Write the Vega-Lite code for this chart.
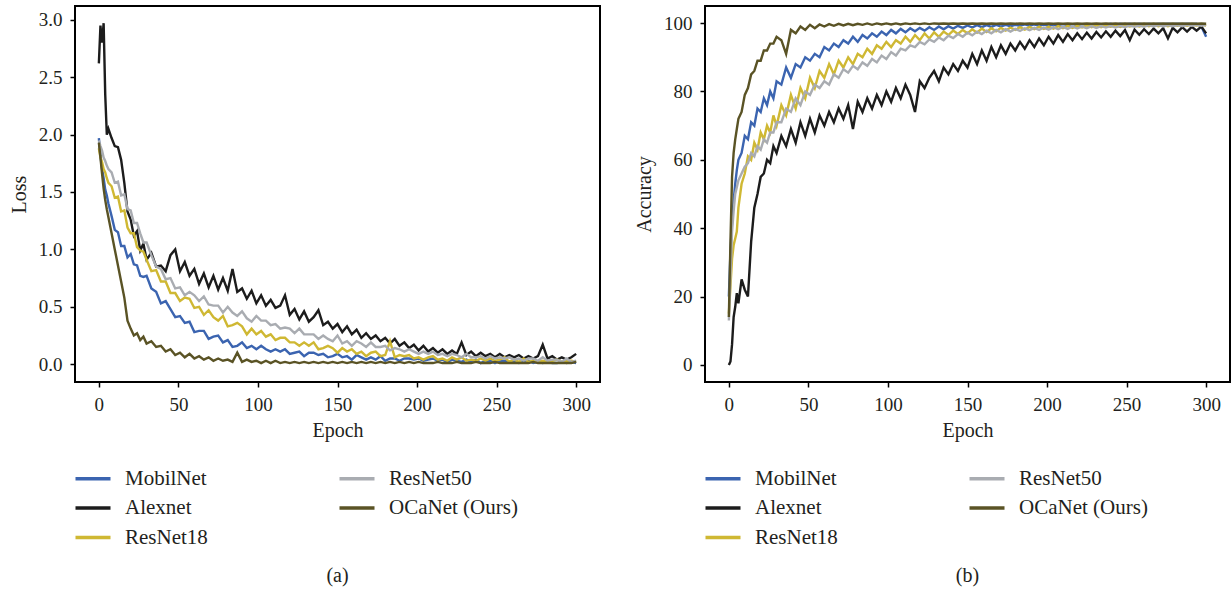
{
"$schema":"https://vega.github.io/schema/vega-lite/v6.json",
"padding":{"left":8,"top":5,"right":0,"bottom":0},
"background":"white",
"config":{
 "view":{"stroke":"#000","strokeWidth":2},
 "font":"Liberation Serif",
 "axis":{"labelFont":"Liberation Serif","labelFontSize":19,"labelColor":"#231f20","titleFont":"Liberation Serif","titleFontSize":20,"titleFontWeight":"normal","titleColor":"#231f20","domain":false,"grid":false,"tickColor":"#000","tickWidth":1.5,"tickSize":5,"labelPadding":8},
 "axisY":{"titlePadding":9},
 "axisX":{"titlePadding":6},
 "legend":{"symbolType":"M-1,0H6","symbolSize":100,"symbolStrokeWidth":3.5,"labelFont":"Liberation Serif","labelFontSize":21,"labelColor":"#231f20","labelOffset":34,"columnPadding":124,"rowPadding":7.5,"gridAlign":"each","labelLimit":300},
 "title":{"font":"Liberation Serif","fontSize":20,"fontWeight":"normal","color":"#231f20"},
 "concat":{"spacing":32}
},
"datasets":{
"loss":[
{"e":0,"M":1.97,"A":2.62,"R":1.88,"S":1.95,"O":1.93},
{"e":1,"M":1.82,"A":2.95,"R":1.80,"S":1.90,"O":1.80},
{"e":2,"M":1.70,"A":2.80,"R":1.76,"S":1.86,"O":1.66},
{"e":3,"M":1.62,"A":2.97,"R":1.70,"S":1.80,"O":1.53},
{"e":4,"M":1.52,"A":2.35,"R":1.67,"S":1.77,"O":1.43},
{"e":5,"M":1.47,"A":2.00,"R":1.62,"S":1.73,"O":1.35},
{"e":6,"M":1.40,"A":2.05,"R":1.58,"S":1.70,"O":1.28},
{"e":8,"M":1.29,"A":1.97,"R":1.55,"S":1.67,"O":1.14},
{"e":10,"M":1.17,"A":1.90,"R":1.45,"S":1.58,"O":1.00},
{"e":12,"M":1.15,"A":1.89,"R":1.46,"S":1.59,"O":0.86},
{"e":14,"M":1.03,"A":1.78,"R":1.33,"S":1.47,"O":0.72},
{"e":16,"M":1.03,"A":1.58,"R":1.34,"S":1.48,"O":0.58},
{"e":18,"M":0.93,"A":1.33,"R":1.19,"S":1.35,"O":0.38},
{"e":20,"M":0.96,"A":1.26,"R":1.14,"S":1.34,"O":0.31},
{"e":22,"M":0.87,"A":1.12,"R":1.14,"S":1.23,"O":0.25},
{"e":24,"M":0.86,"A":1.16,"R":1.02,"S":1.23,"O":0.27},
{"e":26,"M":0.77,"A":0.99,"R":0.99,"S":1.14,"O":0.21},
{"e":28,"M":0.76,"A":1.05,"R":0.98,"S":1.06,"O":0.24},
{"e":30,"M":0.77,"A":0.91,"R":0.91,"S":1.06,"O":0.18},
{"e":33,"M":0.66,"A":0.97,"R":0.81,"S":0.95,"O":0.20},
{"e":36,"M":0.63,"A":0.85,"R":0.82,"S":0.85,"O":0.15},
{"e":39,"M":0.53,"A":0.86,"R":0.72,"S":0.83,"O":0.16},
{"e":42,"M":0.55,"A":0.81,"R":0.72,"S":0.74,"O":0.11},
{"e":45,"M":0.48,"A":0.95,"R":0.62,"S":0.75,"O":0.13},
{"e":48,"M":0.41,"A":1.00,"R":0.62,"S":0.66,"O":0.08},
{"e":51,"M":0.42,"A":0.81,"R":0.55,"S":0.67,"O":0.10},
{"e":54,"M":0.36,"A":0.89,"R":0.58,"S":0.60,"O":0.06},
{"e":57,"M":0.37,"A":0.77,"R":0.57,"S":0.63,"O":0.09},
{"e":60,"M":0.28,"A":0.83,"R":0.49,"S":0.60,"O":0.05},
{"e":63,"M":0.29,"A":0.70,"R":0.50,"S":0.55,"O":0.07},
{"e":66,"M":0.29,"A":0.79,"R":0.43,"S":0.59,"O":0.04},
{"e":69,"M":0.22,"A":0.67,"R":0.47,"S":0.52,"O":0.06},
{"e":72,"M":0.24,"A":0.77,"R":0.41,"S":0.51,"O":0.03},
{"e":75,"M":0.25,"A":0.65,"R":0.38,"S":0.51,"O":0.05},
{"e":78,"M":0.19,"A":0.75,"R":0.42,"S":0.45,"O":0.03},
{"e":81,"M":0.21,"A":0.64,"R":0.33,"S":0.50,"O":0.04},
{"e":84,"M":0.15,"A":0.83,"R":0.34,"S":0.45,"O":0.02},
{"e":87,"M":0.16,"A":0.63,"R":0.36,"S":0.42,"O":0.10},
{"e":90,"M":0.19,"A":0.66,"R":0.33,"S":0.46,"O":0.02},
{"e":93,"M":0.14,"A":0.57,"R":0.26,"S":0.40,"O":0.04},
{"e":96,"M":0.16,"A":0.64,"R":0.31,"S":0.37,"O":0.02},
{"e":99,"M":0.13,"A":0.53,"R":0.26,"S":0.42,"O":0.03},
{"e":102,"M":0.16,"A":0.60,"R":0.29,"S":0.38,"O":0.01},
{"e":105,"M":0.13,"A":0.51,"R":0.24,"S":0.38,"O":0.03},
{"e":108,"M":0.11,"A":0.56,"R":0.26,"S":0.34,"O":0.01},
{"e":111,"M":0.13,"A":0.49,"R":0.21,"S":0.35,"O":0.03},
{"e":114,"M":0.11,"A":0.51,"R":0.23,"S":0.31,"O":0.01},
{"e":117,"M":0.13,"A":0.60,"R":0.23,"S":0.32,"O":0.02},
{"e":120,"M":0.09,"A":0.43,"R":0.19,"S":0.31,"O":0.01},
{"e":123,"M":0.10,"A":0.48,"R":0.19,"S":0.27,"O":0.02},
{"e":126,"M":0.11,"A":0.39,"R":0.16,"S":0.31,"O":0.01},
{"e":129,"M":0.07,"A":0.46,"R":0.19,"S":0.26,"O":0.02},
{"e":132,"M":0.10,"A":0.37,"R":0.16,"S":0.26,"O":0.01},
{"e":135,"M":0.10,"A":0.41,"R":0.19,"S":0.26,"O":0.02},
{"e":138,"M":0.08,"A":0.47,"R":0.13,"S":0.22,"O":0.01},
{"e":141,"M":0.09,"A":0.34,"R":0.14,"S":0.25,"O":0.02},
{"e":144,"M":0.06,"A":0.37,"R":0.16,"S":0.22,"O":0.01},
{"e":147,"M":0.07,"A":0.31,"R":0.14,"S":0.20,"O":0.02},
{"e":150,"M":0.09,"A":0.35,"R":0.10,"S":0.25,"O":0.01},
{"e":153,"M":0.06,"A":0.28,"R":0.14,"S":0.18,"O":0.02},
{"e":156,"M":0.07,"A":0.33,"R":0.11,"S":0.20,"O":0.01},
{"e":159,"M":0.04,"A":0.26,"R":0.13,"S":0.16,"O":0.02},
{"e":162,"M":0.08,"A":0.30,"R":0.09,"S":0.20,"O":0.01},
{"e":165,"M":0.06,"A":0.23,"R":0.11,"S":0.18,"O":0.02},
{"e":168,"M":0.04,"A":0.27,"R":0.07,"S":0.15,"O":0.01},
{"e":171,"M":0.06,"A":0.22,"R":0.10,"S":0.19,"O":0.02},
{"e":174,"M":0.04,"A":0.25,"R":0.11,"S":0.15,"O":0.01},
{"e":177,"M":0.07,"A":0.20,"R":0.07,"S":0.15,"O":0.02},
{"e":180,"M":0.03,"A":0.23,"R":0.08,"S":0.16,"O":0.01},
{"e":183,"M":0.05,"A":0.18,"R":0.20,"S":0.12,"O":0.02},
{"e":186,"M":0.05,"A":0.22,"R":0.06,"S":0.14,"O":0.01},
{"e":189,"M":0.03,"A":0.16,"R":0.08,"S":0.13,"O":0.02},
{"e":192,"M":0.05,"A":0.19,"R":0.07,"S":0.11,"O":0.01},
{"e":195,"M":0.05,"A":0.14,"R":0.08,"S":0.13,"O":0.02},
{"e":198,"M":0.04,"A":0.17,"R":0.05,"S":0.11,"O":0.01},
{"e":201,"M":0.05,"A":0.12,"R":0.06,"S":0.09,"O":0.02},
{"e":204,"M":0.03,"A":0.16,"R":0.04,"S":0.11,"O":0.01},
{"e":207,"M":0.04,"A":0.11,"R":0.06,"S":0.09,"O":0.01},
{"e":210,"M":0.05,"A":0.14,"R":0.07,"S":0.11,"O":0.01},
{"e":213,"M":0.03,"A":0.10,"R":0.04,"S":0.08,"O":0.02},
{"e":216,"M":0.04,"A":0.13,"R":0.05,"S":0.09,"O":0.01},
{"e":219,"M":0.02,"A":0.09,"R":0.03,"S":0.07,"O":0.01},
{"e":222,"M":0.04,"A":0.12,"R":0.06,"S":0.09,"O":0.01},
{"e":225,"M":0.03,"A":0.09,"R":0.04,"S":0.08,"O":0.02},
{"e":228,"M":0.02,"A":0.19,"R":0.06,"S":0.06,"O":0.01},
{"e":231,"M":0.04,"A":0.08,"R":0.03,"S":0.09,"O":0.01},
{"e":234,"M":0.02,"A":0.11,"R":0.04,"S":0.06,"O":0.01},
{"e":237,"M":0.04,"A":0.07,"R":0.03,"S":0.06,"O":0.02},
{"e":240,"M":0.01,"A":0.10,"R":0.05,"S":0.07,"O":0.01},
{"e":243,"M":0.03,"A":0.07,"R":0.03,"S":0.05,"O":0.01},
{"e":246,"M":0.03,"A":0.09,"R":0.05,"S":0.07,"O":0.01},
{"e":249,"M":0.01,"A":0.06,"R":0.03,"S":0.05,"O":0.02},
{"e":252,"M":0.03,"A":0.09,"R":0.04,"S":0.06,"O":0.01},
{"e":255,"M":0.03,"A":0.06,"R":0.06,"S":0.05,"O":0.01},
{"e":258,"M":0.02,"A":0.08,"R":0.02,"S":0.06,"O":0.01},
{"e":261,"M":0.03,"A":0.06,"R":0.04,"S":0.04,"O":0.01},
{"e":264,"M":0.01,"A":0.08,"R":0.02,"S":0.05,"O":0.01},
{"e":267,"M":0.02,"A":0.05,"R":0.05,"S":0.03,"O":0.01},
{"e":270,"M":0.03,"A":0.07,"R":0.02,"S":0.05,"O":0.01},
{"e":273,"M":0.01,"A":0.05,"R":0.03,"S":0.05,"O":0.02},
{"e":276,"M":0.02,"A":0.07,"R":0.02,"S":0.03,"O":0.01},
{"e":279,"M":0.01,"A":0.17,"R":0.03,"S":0.06,"O":0.01},
{"e":282,"M":0.02,"A":0.05,"R":0.02,"S":0.03,"O":0.01},
{"e":285,"M":0.01,"A":0.07,"R":0.03,"S":0.04,"O":0.01},
{"e":288,"M":0.01,"A":0.04,"R":0.04,"S":0.04,"O":0.01},
{"e":291,"M":0.02,"A":0.06,"R":0.02,"S":0.02,"O":0.01},
{"e":294,"M":0.01,"A":0.04,"R":0.03,"S":0.05,"O":0.01},
{"e":297,"M":0.02,"A":0.06,"R":0.03,"S":0.02,"O":0.01},
{"e":300,"M":0.01,"A":0.09,"R":0.02,"S":0.03,"O":0.02}
],
"acc":[
{"e":0,"M":20,"A":0,"R":15,"S":13,"O":14},
{"e":1,"M":33,"A":1,"R":23,"S":26,"O":36},
{"e":2,"M":42,"A":6,"R":31,"S":39,"O":55},
{"e":3,"M":48,"A":14,"R":35,"S":45,"O":62},
{"e":4,"M":53,"A":17,"R":37,"S":50,"O":66},
{"e":5,"M":57,"A":21,"R":39,"S":52,"O":69},
{"e":6,"M":60,"A":18,"R":46,"S":54,"O":72},
{"e":8,"M":62,"A":25,"R":53,"S":56,"O":74},
{"e":10,"M":67,"A":22,"R":56,"S":58,"O":79},
{"e":12,"M":66,"A":20,"R":61,"S":59,"O":81},
{"e":14,"M":71,"A":36,"R":60,"S":62,"O":85},
{"e":16,"M":70,"A":46,"R":65,"S":61,"O":86},
{"e":18,"M":75,"A":50,"R":63,"S":64,"O":89},
{"e":20,"M":74,"A":55,"R":68,"S":63,"O":89},
{"e":22,"M":78,"A":56,"R":66,"S":66,"O":92},
{"e":24,"M":76,"A":60,"R":70,"S":65,"O":92},
{"e":26,"M":80,"A":59,"R":68,"S":68,"O":94},
{"e":28,"M":78,"A":64,"R":73,"S":68,"O":94},
{"e":30,"M":83,"A":62,"R":70,"S":71,"O":96},
{"e":33,"M":82,"A":67,"R":76,"S":71,"O":95},
{"e":36,"M":87,"A":64,"R":73,"S":75,"O":91},
{"e":39,"M":84,"A":69,"R":79,"S":74,"O":98},
{"e":42,"M":88,"A":65,"R":75,"S":78,"O":97},
{"e":45,"M":87,"A":71,"R":81,"S":76,"O":99},
{"e":48,"M":90,"A":67,"R":78,"S":80,"O":98},
{"e":51,"M":89,"A":72,"R":84,"S":79,"O":99.5},
{"e":54,"M":91,"A":68,"R":81,"S":82,"O":98.5},
{"e":57,"M":90,"A":73,"R":86,"S":81,"O":99.6},
{"e":60,"M":93,"A":70,"R":84,"S":83,"O":99},
{"e":63,"M":92,"A":74,"R":88,"S":82,"O":99.7},
{"e":66,"M":94,"A":71,"R":85,"S":85,"O":99.2},
{"e":69,"M":93,"A":75,"R":89,"S":84,"O":99.8},
{"e":72,"M":95,"A":72,"R":87,"S":86.5,"O":99.3},
{"e":75,"M":94,"A":76,"R":90,"S":85.5,"O":99.8},
{"e":78,"M":96,"A":69,"R":88,"S":87.5,"O":99.4},
{"e":81,"M":94.5,"A":77,"R":91,"S":86.5,"O":99.8},
{"e":84,"M":96.5,"A":74,"R":90,"S":88.5,"O":99.5},
{"e":87,"M":95.5,"A":78,"R":92.5,"S":87.5,"O":99.9},
{"e":90,"M":97,"A":75,"R":91,"S":89.5,"O":99.5},
{"e":93,"M":96,"A":79,"R":93.5,"S":88.5,"O":99.9},
{"e":96,"M":97.5,"A":76,"R":92.5,"S":90.5,"O":99.6},
{"e":99,"M":96.5,"A":80,"R":94.5,"S":89.5,"O":99.9},
{"e":102,"M":98,"A":77,"R":93,"S":91.5,"O":99.6},
{"e":105,"M":97,"A":81,"R":95,"S":90.5,"O":99.9},
{"e":108,"M":98.3,"A":78,"R":94,"S":92.5,"O":99.6},
{"e":111,"M":97.3,"A":82,"R":96,"S":92,"O":99.9},
{"e":114,"M":98.5,"A":79,"R":94.5,"S":93.5,"O":99.7},
{"e":117,"M":97.6,"A":74,"R":96.5,"S":93,"O":99.9},
{"e":120,"M":98.6,"A":83,"R":95,"S":94.5,"O":99.7},
{"e":123,"M":97.8,"A":81,"R":97,"S":93.8,"O":99.9},
{"e":126,"M":98.8,"A":84,"R":95.5,"S":95.2,"O":99.7},
{"e":129,"M":98,"A":86,"R":97.3,"S":94.5,"O":99.9},
{"e":132,"M":99,"A":83,"R":96,"S":95.8,"O":99.8},
{"e":135,"M":98.2,"A":87,"R":97.5,"S":95,"O":99.9},
{"e":138,"M":99.1,"A":85,"R":96.5,"S":96.3,"O":99.8},
{"e":141,"M":98.4,"A":88,"R":97.8,"S":95.6,"O":99.9},
{"e":144,"M":99.2,"A":86,"R":96.8,"S":96.8,"O":99.8},
{"e":147,"M":98.6,"A":89,"R":98,"S":96,"O":99.9},
{"e":150,"M":99.3,"A":87,"R":97,"S":97.2,"O":99.8},
{"e":153,"M":98.7,"A":91,"R":98.2,"S":96.4,"O":99.9},
{"e":156,"M":99.4,"A":88,"R":97.2,"S":97.5,"O":99.8},
{"e":159,"M":98.8,"A":92,"R":98.4,"S":96.8,"O":99.9},
{"e":162,"M":99.4,"A":89,"R":97.4,"S":97.8,"O":99.8},
{"e":165,"M":98.9,"A":93,"R":98.5,"S":97,"O":99.9},
{"e":168,"M":99.5,"A":90,"R":97.6,"S":98,"O":99.8},
{"e":171,"M":99,"A":93.5,"R":98.6,"S":97.3,"O":99.9},
{"e":174,"M":99.5,"A":91,"R":97.8,"S":98.2,"O":99.8},
{"e":177,"M":99.1,"A":94,"R":98.7,"S":97.5,"O":99.9},
{"e":180,"M":99.5,"A":92,"R":98,"S":98.3,"O":99.8},
{"e":183,"M":99.2,"A":94.5,"R":98.8,"S":97.7,"O":99.9},
{"e":186,"M":99.6,"A":92.5,"R":98.1,"S":98.5,"O":99.8},
{"e":189,"M":99.2,"A":95,"R":98.9,"S":97.9,"O":99.9},
{"e":192,"M":99.6,"A":93,"R":98.2,"S":98.6,"O":99.8},
{"e":195,"M":99.3,"A":95.5,"R":99,"S":98,"O":99.9},
{"e":198,"M":99.6,"A":93.5,"R":98.3,"S":98.7,"O":99.8},
{"e":201,"M":99.3,"A":96,"R":99,"S":98.1,"O":99.9},
{"e":204,"M":99.6,"A":94,"R":98.4,"S":98.8,"O":99.8},
{"e":207,"M":99.4,"A":96.5,"R":99.1,"S":98.2,"O":99.9},
{"e":210,"M":99.7,"A":94.5,"R":98.5,"S":98.9,"O":99.8},
{"e":213,"M":99.4,"A":96.8,"R":99.2,"S":98.3,"O":99.9},
{"e":216,"M":99.7,"A":95,"R":98.6,"S":99,"O":99.8},
{"e":219,"M":99.4,"A":97,"R":99.2,"S":98.4,"O":99.9},
{"e":222,"M":99.7,"A":95.3,"R":98.7,"S":99,"O":99.8},
{"e":225,"M":99.5,"A":97.2,"R":99.3,"S":98.5,"O":99.9},
{"e":228,"M":99.7,"A":95.5,"R":98.8,"S":99.1,"O":99.8},
{"e":231,"M":99.5,"A":97.4,"R":99.3,"S":98.6,"O":99.9},
{"e":234,"M":99.7,"A":95.8,"R":98.8,"S":99.1,"O":99.8},
{"e":237,"M":99.5,"A":97.6,"R":99.3,"S":98.7,"O":99.9},
{"e":240,"M":99.8,"A":96,"R":98.9,"S":99.2,"O":99.8},
{"e":243,"M":99.5,"A":97.8,"R":99.4,"S":98.7,"O":99.9},
{"e":246,"M":99.8,"A":96.2,"R":98.9,"S":99.2,"O":99.8},
{"e":249,"M":99.6,"A":98,"R":99.4,"S":98.8,"O":99.9},
{"e":252,"M":99.8,"A":95,"R":99,"S":99.3,"O":99.8},
{"e":255,"M":99.6,"A":98.1,"R":99.4,"S":98.9,"O":99.9},
{"e":258,"M":99.8,"A":96.6,"R":99,"S":99.3,"O":99.8},
{"e":261,"M":99.6,"A":98.2,"R":99.5,"S":98.9,"O":99.9},
{"e":264,"M":99.8,"A":96.8,"R":99.1,"S":99.4,"O":99.8},
{"e":267,"M":99.6,"A":98.4,"R":99.5,"S":99,"O":99.9},
{"e":270,"M":99.8,"A":97,"R":99.1,"S":99.4,"O":99.8},
{"e":273,"M":99.7,"A":98.5,"R":99.5,"S":99,"O":99.9},
{"e":276,"M":99.8,"A":95.5,"R":99.1,"S":99.4,"O":99.8},
{"e":279,"M":99.7,"A":98.6,"R":99.5,"S":99.1,"O":99.9},
{"e":282,"M":99.8,"A":97.3,"R":99.2,"S":99.4,"O":99.8},
{"e":285,"M":99.7,"A":98.8,"R":99.6,"S":99.1,"O":99.9},
{"e":288,"M":99.8,"A":97.5,"R":99.2,"S":99.5,"O":99.8},
{"e":291,"M":99.7,"A":98.9,"R":99.6,"S":99.2,"O":99.9},
{"e":294,"M":99.8,"A":97.8,"R":99.3,"S":99.5,"O":99.8},
{"e":297,"M":99,"A":99,"R":99.6,"S":99.2,"O":99.9},
{"e":300,"M":96,"A":97,"R":99.3,"S":99.5,"O":99.8}
]
},
"hconcat":[
{
 "width":525,"height":376,
 "data":{"name":"loss"},
 "transform":[{"fold":["M","A","R","S","O"],"as":["k","v"]}],
 "title":{"text":"(a)","orient":"bottom","anchor":"middle","frame":"group","offset":18},
 "mark":{"type":"line","strokeWidth":2.4},
 "encoding":{
  "x":{"field":"e","type":"quantitative","scale":{"domain":[-15,315],"nice":false,"zero":false},"axis":{"values":[0,50,100,150,200,250,300],"title":"Epoch"}},
  "y":{"field":"v","type":"quantitative","scale":{"domain":[-0.155,3.12],"nice":false,"zero":false},"axis":{"values":[0,0.5,1,1.5,2,2.5,3],"format":".1f","title":"Loss"}},
  "color":{"field":"k","type":"nominal","scale":{"domain":["M","A","R","S","O"],"range":["#3b64b0","#1c1c1c","#cfb833","#a9acb1","#5a5325"]},
   "legend":{"title":null,"orient":"none","legendX":-5,"legendY":462,"columns":2,"labelExpr":"datum.label=='M'?'MobilNet':datum.label=='A'?'Alexnet':datum.label=='R'?'ResNet18':datum.label=='S'?'ResNet50':'OCaNet (Ours)'"}}
 }
},
{
 "width":525,"height":376,
 "data":{"name":"acc"},
 "transform":[{"fold":["M","A","R","S","O"],"as":["k","v"]}],
 "title":{"text":"(b)","orient":"bottom","anchor":"middle","frame":"group","offset":18},
 "mark":{"type":"line","strokeWidth":2.4},
 "encoding":{
  "x":{"field":"e","type":"quantitative","scale":{"domain":[-15,315],"nice":false,"zero":false},"axis":{"values":[0,50,100,150,200,250,300],"title":"Epoch"}},
  "y":{"field":"v","type":"quantitative","scale":{"domain":[-5,105],"nice":false,"zero":false},"axis":{"values":[0,20,40,60,80,100],"title":"Accuracy"}},
  "color":{"field":"k","type":"nominal","scale":{"domain":["M","A","R","S","O"],"range":["#3b64b0","#1c1c1c","#cfb833","#a9acb1","#5a5325"]},
   "legend":{"title":null,"orient":"none","legendX":-5,"legendY":462,"columns":2,"labelExpr":"datum.label=='M'?'MobilNet':datum.label=='A'?'Alexnet':datum.label=='R'?'ResNet18':datum.label=='S'?'ResNet50':'OCaNet (Ours)'"}}
 }
}
],
"resolve":{"scale":{"color":"independent"},"legend":{"color":"independent"}}
}
